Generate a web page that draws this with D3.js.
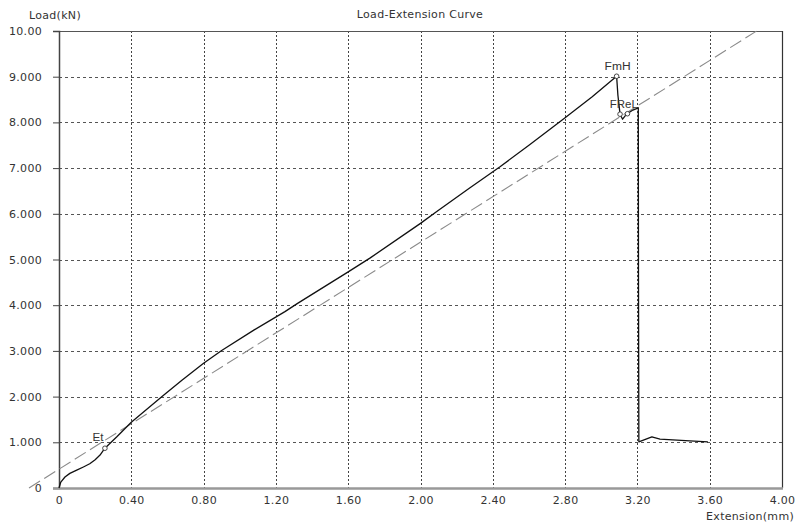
<!DOCTYPE html>
<html>
<head>
<meta charset="utf-8">
<script src="https://cdn.jsdelivr.net/npm/d3@7"></script>
<style>
  html, body { margin: 0; padding: 0; background: #fff; }
  svg { display: block; }
  text { font-family: "DejaVu Sans", Verdana, sans-serif; fill: #333; }
</style>
</head>
<body>
<div id="chart"></div>
<script>
// ---- data ----
const xTickValues = [0, 0.4, 0.8, 1.2, 1.6, 2.0, 2.4, 2.8, 3.2, 3.6, 4.0];
const xTickLabels = ["0", "0.40", "0.80", "1.20", "1.60", "2.00", "2.40", "2.80", "3.20", "3.60", "4.00"];
const yTickValues = [0, 1, 2, 3, 4, 5, 6, 7, 8, 9, 10];
const yTickLabels = ["0", "1.000", "2.000", "3.000", "4.000", "5.000", "6.000", "7.000", "8.000", "9.000", "10.00"];

const extension = [0, 0.01, 0.033, 0.06, 0.098, 0.135, 0.17, 0.20, 0.227, 0.254, 0.32, 0.40, 0.57, 0.68, 0.80, 0.90, 1.08, 1.25, 1.32, 1.60, 1.72, 2.00, 2.09, 2.27, 2.44, 2.60, 2.80, 2.95, 3.085, 3.092, 3.104, 3.118, 3.14, 3.175, 3.205, 3.206, 3.208, 3.28, 3.325, 3.49, 3.59];
const load      = [0, 0.13, 0.24, 0.32, 0.39, 0.46, 0.53, 0.62, 0.72, 0.87, 1.12, 1.44, 2.00, 2.36, 2.73, 3.01, 3.46, 3.86, 4.04, 4.73, 5.03, 5.79, 6.05, 6.56, 7.03, 7.50, 8.10, 8.56, 9.01, 8.60, 8.18, 8.07, 8.18, 8.27, 8.32, 4.60, 1.01, 1.12, 1.07, 1.03, 1.01];

const fitExtension = [-0.166, 3.86];
const fitLoad = [0, 10];

const markerExtension = [0.254, 3.085, 3.104, 3.145];
const markerLoad = [0.87, 9.01, 8.18, 8.19];

const pointLabels = ["Et", "FmH", "FReL"];
const pointLabelX = [0.254, 3.085, 3.125];
const pointLabelY = [0.87, 9.01, 8.18];

const chartTitle = "Load-Extension Curve";
const yAxisTitle = "Load(kN)";
const xAxisTitle = "Extension(mm)";

// ---- layout ----
const W = 797, H = 524;
const FONT = "'DejaVu Sans', Verdana, sans-serif";
const svg = d3.select("#chart").append("svg").attr("width", W).attr("height", H);

const x = d3.scaleLinear().domain([0, 4]).range([59, 782]);
const y = d3.scaleLinear().domain([0, 10]).range([488, 31]);

// grid lines
const grid = svg.append("g");
grid.selectAll("line.h").data(yTickValues.filter(v => v > 0 && v < 10)).enter().append("line")
  .attr("x1", x(0)).attr("x2", x(4))
  .attr("y1", d => Math.round(y(d)) + 0.5).attr("y2", d => Math.round(y(d)) + 0.5)
  .attr("stroke", "#555").attr("stroke-width", 1).attr("stroke-dasharray", "3,3");
grid.selectAll("line.v").data(xTickValues.filter(v => v > 0 && v < 4)).enter().append("line")
  .attr("x1", d => Math.round(x(d)) + 0.5).attr("x2", d => Math.round(x(d)) + 0.5)
  .attr("y1", y(10)).attr("y2", y(0))
  .attr("stroke", "#444").attr("stroke-width", 1).attr("stroke-dasharray", "2,2");

// frame
svg.append("line").attr("x1", x(0)).attr("x2", x(4)).attr("y1", y(10) + 0.5).attr("y2", y(10) + 0.5)
  .attr("stroke", "#555").attr("stroke-width", 1);
svg.append("line").attr("x1", x(4) + 0.5).attr("x2", x(4) + 0.5).attr("y1", y(10)).attr("y2", y(0))
  .attr("stroke", "#333").attr("stroke-width", 1.2);

// y axis
const yAxis = d3.axisLeft(y).tickValues(yTickValues).tickFormat((d, i) => yTickLabels[i]).tickSize(6).tickPadding(11);
const gy = svg.append("g").attr("transform", `translate(${x(0)},0)`).call(yAxis);
gy.select(".domain").attr("stroke", "#444").attr("stroke-width", 1.5);
gy.selectAll(".tick line").attr("stroke", "#444");
gy.selectAll("text").attr("font-size", 11).attr("fill", "#333").style("font-family", FONT).style("letter-spacing", "0.3px");

// x axis
const xAxis = d3.axisBottom(x).tickValues(xTickValues).tickFormat((d, i) => xTickLabels[i]).tickSize(0).tickPadding(8);
const gx = svg.append("g").attr("transform", `translate(0,${y(0)})`).call(xAxis);
gx.select(".domain").remove();
gx.selectAll("text").attr("font-size", 11).attr("fill", "#333").style("font-family", FONT).style("letter-spacing", "0.3px");
svg.append("line").attr("x1", 53).attr("x2", x(4) + 1).attr("y1", y(0) + 0.5).attr("y2", y(0) + 0.5)
  .attr("stroke", "#999").attr("stroke-width", 2.5);

// fit dashed line
const fitPts = fitExtension.map((d, i) => [d, fitLoad[i]]);
svg.append("path").datum(fitPts)
  .attr("d", d3.line().x(d => x(d[0])).y(d => y(d[1])))
  .attr("fill", "none").attr("stroke", "#8a8a8a").attr("stroke-width", 1.1)
  .attr("stroke-dasharray", "13,5");

// curve
const curvePts = extension.map((d, i) => [d, load[i]]);
svg.append("path").datum(curvePts)
  .attr("d", d3.line().x(d => x(d[0])).y(d => y(d[1])))
  .attr("fill", "none").attr("stroke", "#111").attr("stroke-width", 1.3)
  .attr("stroke-linejoin", "round");

// markers
svg.selectAll("circle.mk").data(markerExtension).enter().append("circle")
  .attr("cx", d => x(d)).attr("cy", (d, i) => y(markerLoad[i]))
  .attr("r", 2.3).attr("fill", "#fff").attr("stroke", "#333").attr("stroke-width", 0.9);

// point labels
const lblOffsets = [[-7, -7], [1, -6], [0, -6]];
const lblLengths = [11, 26, 28];
svg.selectAll("text.pl").data(pointLabels).enter().append("text")
  .attr("x", (d, i) => x(pointLabelX[i]) + lblOffsets[i][0])
  .attr("y", (d, i) => y(pointLabelY[i]) + lblOffsets[i][1])
  .attr("text-anchor", "middle").attr("font-size", 10).attr("fill", "#444")
  .style("font-family", "'Liberation Sans Narrow', 'Liberation Sans', Arial, sans-serif")
  .attr("textLength", (d, i) => lblLengths[i])
  .attr("lengthAdjust", "spacingAndGlyphs")
  .text(d => d);

// titles
svg.append("text").attr("x", 420).attr("y", 18).attr("text-anchor", "middle").attr("font-size", 11).style("letter-spacing", "0.3px").text(chartTitle);
svg.append("text").attr("x", 29).attr("y", 19).attr("font-size", 11).style("letter-spacing", "0.3px").text(yAxisTitle);
svg.append("text").attr("x", 794).attr("y", 520).attr("text-anchor", "end").attr("font-size", 11).style("letter-spacing", "0.3px").text(xAxisTitle);
</script>
</body>
</html>
